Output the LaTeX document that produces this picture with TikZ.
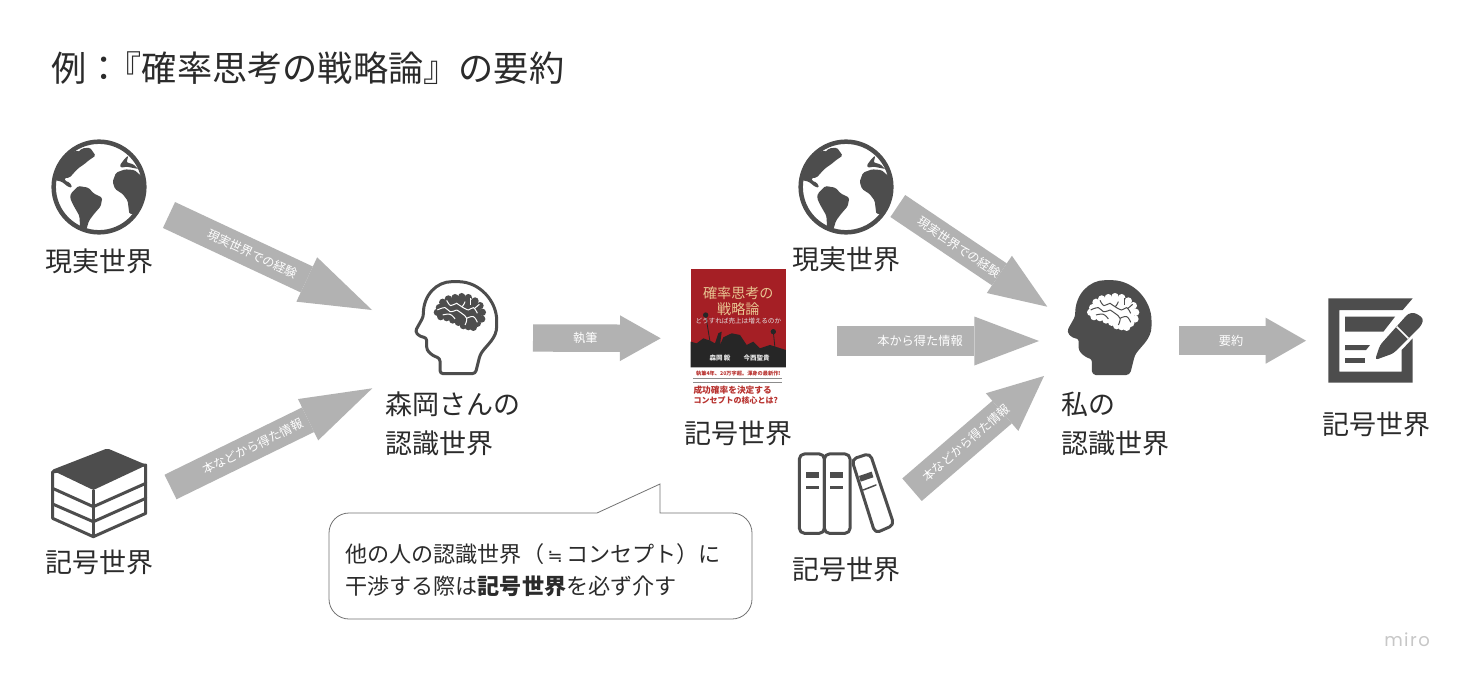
\documentclass[tikz,border=0pt]{standalone}
\usepackage{fontspec}
\setmainfont{Noto Sans CJK JP}
\newfontfamily\mirofont[LetterSpace=8]{Poppins}
\newfontfamily\symfont{DejaVu Sans}
\usetikzlibrary{arrows.meta, positioning, calc}
\definecolor{icongray}{HTML}{4D4D4D}
\definecolor{arrowgray}{HTML}{B2B2B2}
\definecolor{textgray}{HTML}{2B2B2B}
\definecolor{coverred}{HTML}{A51F25}
\definecolor{covergold}{HTML}{E8C592}
\definecolor{bandred}{HTML}{B8322F}

\begin{document}
\begin{tikzpicture}[x=1pt, y=-1pt]
\tikzstyle{iconbox} = [inner sep=0pt, outer sep=0pt]
\tikzstyle{worldlabel} = [inner sep=0pt, align=left, text=textgray, font=\fontsize{27pt}{39pt}\selectfont]
\tikzstyle{arrowlabel} = [sloped, pos=0.41, inner sep=0pt, text=white, font=\fontsize{12.2pt}{14pt}\selectfont]
\tikzstyle{iconline} = [draw=icongray, line join=round, line cap=round]
\tikzset{blockarrow/.style n args={3}{line width=#1, draw=arrowgray, -{Triangle[length=#2, width=#3, line width=0pt]}}}

% icons
\tikzset{pics/globeicon/.style={code={
  \begin{scope}[x=0.3333pt, y=-0.3333pt]
  \draw[iconline, line width=4.5pt, fill=white] (0,0) circle (136);
  \fill[icongray, rounded corners=1.5pt] (-134,-21) -- (-130,-51) -- (-107,-86) -- (-67,-111) -- (-64,-104) -- (-50,-116) -- (-27,-118) -- (-10,-94) -- (-28,-82) -- (-45,-68) -- (-60,-58) -- (-75,-43) -- (-88,-28) -- (-104,-27) -- (-102,-18) -- (-88,-14) -- (-80,2) -- (-92,0) -- (-112,-16) -- cycle;
  \fill[icongray, rounded corners=1.5pt] (-84,19) -- (-62,-3) -- (-32,2) -- (-15,20) -- (10,32) -- (5,58) -- (-15,81) -- (-30,101) -- (-38,128) -- (-56,128) -- (-59,86) -- (-79,51) -- (-87,32) -- cycle;
  \fill[icongray, rounded corners=1.5pt] (41,-16) -- (51,-43) -- (78,-53) -- (106,-51) -- (133,-28) -- (138,9) -- (123,51) -- (105,81) -- (91,81) -- (86,41) -- (71,21) -- (48,6) -- cycle;
  \fill[icongray, rounded corners=1pt] (63,-66) -- (78,-86) -- (88,-94) -- (83,-74) -- (103,-68) -- (118,-54) -- (83,-61) -- (66,-58) -- cycle;
  \end{scope}
}}}
\tikzset{pics/headicon/.style n args={3}{code={
  \begin{scope}[x=0.3333pt, y=-0.3333pt]
  \draw[iconline, line width=3pt, fill=#1, rounded corners=3pt] (-50,136) -- (-50,90) -- (-72,82) -- (-90,65) -- (-90,28) -- (-110,25) -- (-125,10) -- (-100,-35)
    .. controls (-100,-100) and (-60,-140) .. (-5,-140) .. controls (70,-140) and (120,-80) .. (120,-15) .. controls (120,30) and (90,50) .. (70,80) -- (56,136) -- cycle;
  \fill[#2] (-52,-62) -- (-25,-88) -- (15,-95) -- (55,-82) -- (77,-48) -- (62,-15) -- (35,-5) -- (5,-18) -- (-30,-32) -- (-55,-48) -- cycle;
  \foreach \bx/\by in {-52/-62, -42/-78, -25/-88, -5/-92, 15/-95, 35/-92, 55/-82, 70/-68, 77/-48, 75/-28, 62/-15, 50/-3, 35/-5, 20/-8, 5/-18, -12/-25, -30/-32, -48/-35, -58/-48}
    \fill[#2] (\bx,\by) circle (11);
  \draw[#3, line width=1pt] plot[smooth, tension=0.7] coordinates {(-58,-55) (-35,-62) (-20,-50) (0,-55)};
  \draw[#3, line width=1pt] plot[smooth, tension=0.7] coordinates {(-30,-84) (-18,-68) (0,-75) (15,-65) (25,-80)};
  \draw[#3, line width=1pt] plot[smooth, tension=0.7] coordinates {(-42,-40) (-20,-42) (-5,-28)};
  \draw[#3, line width=1pt] plot[smooth, tension=0.7] coordinates {(0,-55) (15,-45) (30,-30) (25,-10)};
  \draw[#3, line width=1pt] plot[smooth, tension=0.7] coordinates {(15,-65) (35,-55) (50,-62) (62,-45)};
  \draw[#3, line width=1pt] plot[smooth, tension=0.7] coordinates {(30,-30) (50,-35) (62,-18)};
  \draw[#3, line width=1pt] (42,-90) -- (42,-70);
  \draw[#3, line width=1pt] (68,-72) -- (54,-60);
  \end{scope}
}}}

\path[fill=white, use as bounding box] (0,0) rectangle (1464,682);

\node (title) [inner sep=0pt, anchor=west, text=textgray, font=\fontsize{35.2pt}{40pt}\selectfont] at (51.5,68.5) {例：\kern-15.5pt『確率思考の戦略論』の要約};

% left side
\node (globeA) [iconbox, minimum width=96pt, minimum height=96pt] at (99,187) {};
\pic at (globeA) {globeicon};
\node (realA) [worldlabel, below=14pt of globeA] {現実世界};

\node (stackA) [iconbox, minimum width=94pt, minimum height=90pt] at (99,492.7) {};
\begin{scope}[shift={(stackA)}, x=0.3333pt, y=-0.3333pt]
\draw[iconline, line width=3pt, fill=white] (-139,-63) -- (-139,77) -- (-17,132) -- (140,62) -- (140,-83) -- cycle;
\draw[iconline, line width=3pt] (-139,-13) -- (-17,42) -- (140,-28);
\draw[iconline, line width=3pt] (-139,34) -- (-17,87) -- (140,17);
\draw[iconline, line width=3pt] (-17,-8) -- (-17,132);
\fill[icongray, rounded corners=2pt] (-142,-68) -- (25,-133) -- (143,-83) -- (-17,-8) -- cycle;
\end{scope}
\node (symbolA) [worldlabel, below=12pt of stackA] {記号世界};

\node (headA) [iconbox, minimum width=82pt, minimum height=94pt] at (456.7,328.3) {};
\pic at (headA) {headicon={white}{icongray}{white}};
\node (mindA) [worldlabel, below=16.5pt of headA, xshift=-3.5pt] {森岡さんの\\認識世界};

% book in the middle
\node (bookCover) [iconbox, minimum width=96pt, minimum height=136pt] at (738.3,337) {};
\begin{scope}[shift={($(bookCover)+(-78.3,-87)$)}, x=0.3333pt, y=-0.3333pt]
\fill[coverred] (92,57) rectangle (378,352);
\fill[black!85] (92,352) -- (92,275) -- (110,280) -- (130,265) -- (150,272) -- (165,280) -- (175,250) -- (185,245) -- (180,285) -- (190,262) -- (215,250) -- (240,255) -- (260,285) -- (280,275) -- (300,295) -- (330,285) -- (378,300) -- (378,352) -- cycle;
\draw[black!85, line width=0.8pt] (137,195) -- (150,275);
\draw[black!85, line width=0.8pt] (340,245) -- (345,295);
\fill[black!85] (137,195) circle (8);
\fill[black!85] (340,245) circle (8);
\node (coverTitleA) [inner sep=0pt, text=covergold, font=\fontsize{14.1pt}{16pt}\selectfont] at (235,130) {確率思考の};
\node (coverTitleB) [inner sep=0pt, text=covergold, font=\fontsize{14.1pt}{16pt}\selectfont] at (235,178) {戦略論};
\node (coverSub) [inner sep=0pt, text=white!90!black, font=\fontsize{6.6pt}{8pt}\selectfont] at (235,213) {どうすれば売上は増えるのか};
\node (coverAuthorA) [inner sep=0pt, text=white!90!black, font=\bfseries\fontsize{6.5pt}{8pt}\selectfont] at (180,325) {森岡 毅};
\node (coverAuthorB) [inner sep=0pt, text=white!90!black, font=\bfseries\fontsize{6.5pt}{8pt}\selectfont] at (290,325) {今西聖貴};
\node (bandTop) [inner sep=0pt, text=bandred, font=\bfseries\fontsize{5.2pt}{6pt}\selectfont] at (235,370) {執筆4年、20万字超。渾身の最新作!};
\draw[black!45, line width=1pt] (100,387) -- (365,387);
\draw[black!45, line width=1pt] (100,397) -- (365,397);
\node (bandMid) [inner sep=0pt, anchor=west, text=bandred, font=\bfseries\fontsize{8.7pt}{10pt}\selectfont] at (100,420) {成功確率を決定する};
\node (bandLow) [inner sep=0pt, anchor=west, text=bandred, font=\bfseries\fontsize{8pt}{10pt}\selectfont] at (100,450) {コンセプトの核心とは?};
\end{scope}
\node (symbolBook) [worldlabel, below=15.5pt of bookCover] {記号世界};

% right side
\node (globeB) [iconbox, minimum width=96pt, minimum height=96pt] at (846,187) {};
\pic at (globeB) {globeicon};
\node (realB) [worldlabel, below=12pt of globeB] {現実世界};

\node (shelfB) [iconbox, minimum width=96pt, minimum height=81pt] at (846.7,493.3) {};
\begin{scope}[shift={(shelfB)}, x=0.3333pt, y=-0.3333pt]
\draw[iconline, line width=3pt, rounded corners=5pt] (-142,-118) rectangle (-67,120);
\draw[iconline, line width=3pt, rounded corners=5pt] (-67,-118) rectangle (10,120);
\draw[iconline, line width=3pt, rounded corners=5pt] (15,-102) -- (70,-120) -- (142,95) -- (85,120) -- cycle;
\fill[icongray] (-122,-63) rectangle (-82,-45);
\fill[icongray] (-122,-23) rectangle (-82,-13);
\fill[icongray] (-50,-63) rectangle (-10,-45);
\fill[icongray] (-50,-23) rectangle (-10,-13);
\fill[icongray] (37,-52) -- (75,-65) -- (80,-48) -- (42,-35) -- cycle;
\draw[iconline, line width=1.5pt] (50,-10) -- (88,-25);
\end{scope}
\node (symbolB) [worldlabel, below=23pt of shelfB] {記号世界};

\node (headB) [iconbox, minimum width=82pt, minimum height=94pt] at (1110,328.3) {};
\pic at (headB) {headicon={icongray}{white}{icongray}};
\node (mindB) [worldlabel, below=16.5pt of headB, xshift=5pt] {私の\\認識世界};

\node (noteB) [iconbox, minimum width=84pt, minimum height=84pt] at (1370.7,340.7) {};
\begin{scope}[shift={(noteB)}, x=0.3333pt, y=-0.3333pt]
\fill[icongray] (-127,-127) -- (126,-127) -- (96,-92) -- (-94,-92) -- (-94,93) -- (93,93) -- (93,28) -- (126,-7) -- (126,126) -- (-127,126) -- cycle;
\fill[icongray] (-77,-72) -- (73,-72) -- (38,-27) -- (-77,-27) -- cycle;
\fill[icongray] (-77,13) -- (-2,13) -- (-14,28) -- (-77,28) -- cycle;
\fill[icongray] (-77,51) rectangle (-17,68);
\fill[icongray, rounded corners=3pt] (13,58) -- (28,13) -- (113,-82) -- (133,-84) -- (158,-67) -- (153,-47) -- (68,38) -- cycle;
\draw[white, line width=1.6pt] (78,-42) -- (113,-7);
\end{scope}
\node (symbolC) [worldlabel, below=29pt of noteB, xshift=6pt] {記号世界};

% block arrows
\draw [blockarrow={28.6pt}{72pt}{49pt}] ($(globeA)+(70,28)$) -- node[arrowlabel] {現実世界での経験} ($(headA)+(-84.7,-18.3)$);
\draw [blockarrow={27.3pt}{71.5pt}{46pt}] ($(stackA)+(71.5,-5.7)$) -- node[arrowlabel] {本などから得た情報} ($(headA)+(-84.4,60)$);
\draw [blockarrow={27.4pt}{40.7pt}{45.7pt}] ($(headA)+(76.3,9.7)$) -- node[arrowlabel] {執筆} ($(bookCover)+(-77.6,1.3)$);
\draw [blockarrow={26.5pt}{57.8pt}{44.9pt}] ($(globeB)+(51.8,19)$) -- node[arrowlabel] {現実世界での経験} ($(headB)+(-62.7,-21.6)$);
\draw [blockarrow={29.7pt}{64.7pt}{49pt}] ($(bookCover)+(99,4)$) -- node[arrowlabel] {本から得た情報} ($(headB)+(-71,12.7)$);
\draw [blockarrow={29.8pt}{55.3pt}{49.7pt}] ($(shelfB)+(65.3,-3.6)$) -- node[arrowlabel] {本などから得た情報} ($(headB)+(-66,47.7)$);
\draw [blockarrow={29pt}{40.3pt}{46pt}] ($(headB)+(69,12.4)$) -- node[arrowlabel] {要約} ($(noteB)+(-64.7,0)$);

% callout
\draw [draw=black!55, line width=0.8pt, fill=white, rounded corners=20pt] (329,619) -- (329,513) [sharp corners] -- (597,513) -- (660,484) -- (660,513) [rounded corners=20pt] -- (752,513) -- (752,619) -- cycle;
\node (calloutText) [inner sep=0pt, anchor=west, align=left, text=textgray, font=\fontsize{22.1pt}{32pt}\selectfont] at (345,570) {他の人の認識世界（\makebox[1em]{\symfont\fontsize{18pt}{32pt}\selectfont ≒}コンセプト）に\\干渉する際は\textbf{記号世界}を必ず介す};

\node (miroMark) [inner sep=0pt, text=black!22, font=\mirofont\fontsize{18pt}{20pt}\selectfont] at (1407,640) {miro};
\end{tikzpicture}
\end{document}
